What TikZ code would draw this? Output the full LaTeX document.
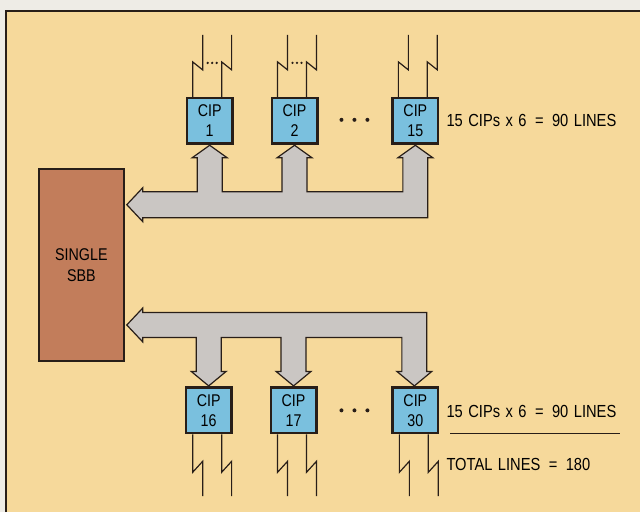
\documentclass[tikz,border=0pt]{standalone}
\usepackage{fontspec}
\setmainfont{Liberation Sans}[FakeStretch=0.84, WordSpace=1.35]
\usetikzlibrary{positioning,calc}
\definecolor{paper}{RGB}{246,217,155}
\definecolor{margin}{RGB}{238,236,230}
\definecolor{ink}{RGB}{40,30,24}
\definecolor{cipblue}{RGB}{122,192,222}
\definecolor{sbbbrown}{RGB}{194,125,91}
\definecolor{busgray}{RGB}{202,198,195}
\begin{document}
\begin{tikzpicture}[x=1pt, y=-1pt,
  cip/.style={rectangle, draw=ink, line width=2.5pt, fill=cipblue,
              minimum width=45.5pt, minimum height=45.5pt, inner sep=0pt,
              align=center, font=\fontsize{17}{20}\selectfont},
  sbb/.style={rectangle, draw=ink, line width=2.5pt, fill=sbbbrown,
              minimum width=85pt, minimum height=192pt, inner sep=0pt,
              align=center, font=\fontsize{17}{21}\selectfont},
  bus/.style={draw=ink, line width=1.2pt, fill=busgray, line join=miter},
  lead/.style={draw=ink, line width=1.2pt},
  lbl/.style={anchor=west, inner sep=0pt, font=\fontsize{17.5}{20}\selectfont}
]
  % Paper and frame
  \fill[margin] (0,0) rectangle (641,513);
  \fill[paper] (6,11) rectangle (641,513);
  \draw[ink, line width=2pt] (6,513) -- (6,11) -- (641,11);

  % Single SBB
  \node[sbb] (sbb) at (81.5,265.5) {SINGLE\\SBB};

  % Upper bus
  \draw[bus] (127,205) -- (143,188) -- (143,192)
    -- (197.5,192) -- (197.5,158) -- (192.5,158) -- (210,145.5) -- (227.5,158) -- (222.5,158) -- (222.5,192)
    -- (282.5,192) -- (282.5,158) -- (277.5,158) -- (295,145.5) -- (312.5,158) -- (307.5,158) -- (307.5,192)
    -- (403.5,192) -- (403.5,158) -- (398.5,158) -- (416,145.5) -- (433.5,158) -- (428.5,158)
    -- (428.5,218) -- (143,218) -- (143,222) -- cycle;

  % Lower bus
  \draw[bus] (127,325.5) -- (143,308.5) -- (143,313) -- (427.5,313)
    -- (427.5,372) -- (432.5,372) -- (415,386.5) -- (397.5,372) -- (402.5,372) -- (402.5,338)
    -- (306.5,338) -- (306.5,372) -- (311.5,372) -- (294,386.5) -- (276.5,372) -- (281.5,372) -- (281.5,338)
    -- (221.5,338) -- (221.5,372) -- (226.5,372) -- (209,386.5) -- (191.5,372) -- (196.5,372) -- (196.5,338)
    -- (143,338) -- (143,342.5) -- cycle;

  % Upper CIPs with their lines
  \foreach \i/\x in {1/210, 2/295, 15/416} {
    \node[cip] (cip\i) at (\x,121) {CIP\\\i};
    \draw[lead] ($(cip\i.north)+(-17,0)$) -- ++(0,-35) -- ++(10,8) -- ++(0,-35);
    \draw[lead] ($(cip\i.north)+(12,0)$) -- ++(0,-35) -- ++(10,8) -- ++(0,-35);
  }
  \foreach \i in {1,2} {
    \foreach \d in {-2,2.5,7}
      \fill[ink] ($(cip\i.north)+(\d,-34)$) circle (1.3);
  }

  % Lower CIPs with their lines
  \foreach \i/\x in {16/209, 17/294, 30/416} {
    \node[cip] (cip\i) at (\x,411) {CIP\\\i};
    \draw[lead] ($(cip\i.south)+(-16,0)$) -- ++(0,38) -- ++(10,-11) -- ++(0,35);
    \draw[lead] ($(cip\i.south)+(13,0)$) -- ++(0,38) -- ++(10,-11) -- ++(0,35);
  }

  % Ellipses
  \foreach \y in {120,411} {
    \foreach \d in {342,355,368}
      \fill[ink] (\d,\y) circle (2);
  }

  % Line counts
  \node[lbl] (linesA) at (447,121) {15 CIPs x 6 \,=\, 90 LINES};
  \node[lbl] (linesB) at (447,412) {15 CIPs x 6 \,=\, 90 LINES};
  \draw[ink, line width=1.3pt] ($(linesB.south west)+(4,16)$) -- ($(linesB.south east)+(3,16)$);
  \node[lbl] (total) at (447,465) {TOTAL LINES \,=\, 180};
\end{tikzpicture}
\end{document}
